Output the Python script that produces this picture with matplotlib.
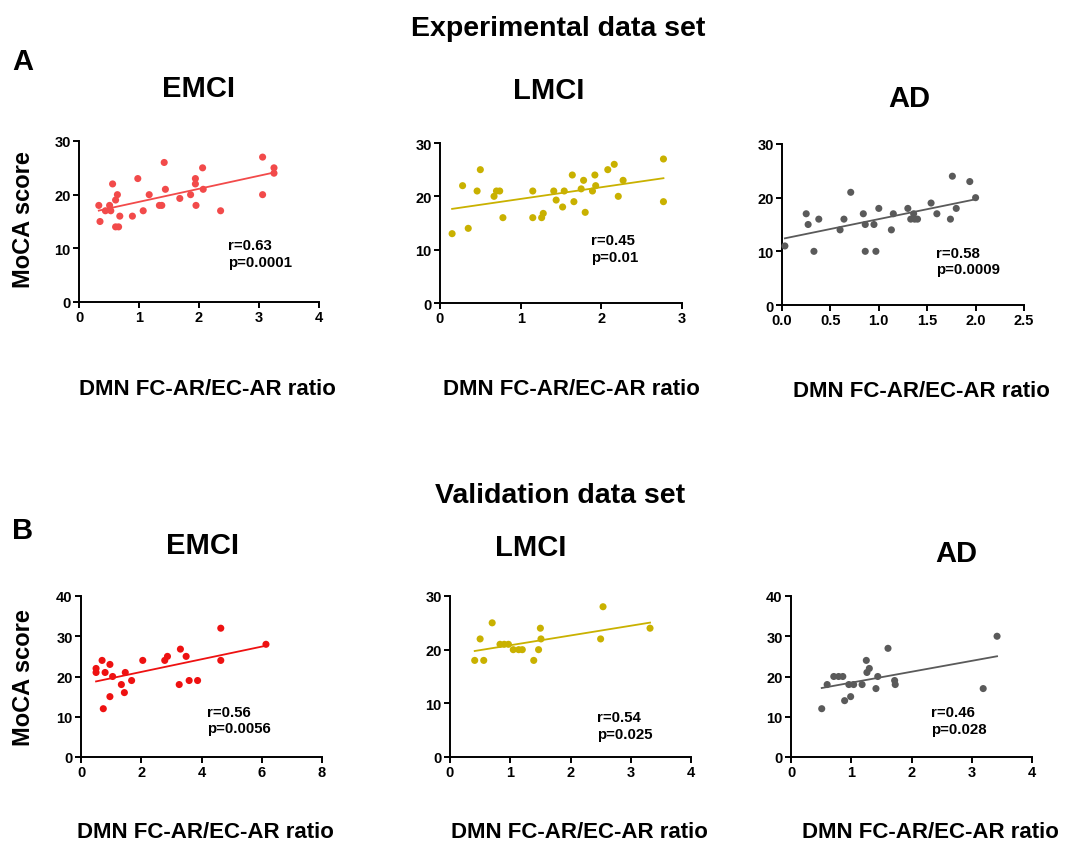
import numpy as np
import matplotlib
matplotlib.use("Agg")
import matplotlib.pyplot as plt

plt.rcParams['font.family'] = ['Liberation Sans', 'DejaVu Sans']
plt.rcParams['font.weight'] = 'bold'

# ---- data ----
# Experimental data set
a_emci_x = [0.33, 0.35, 0.44, 0.51, 0.53, 0.56, 0.61, 0.64, 0.61, 0.66, 0.68, 0.89, 0.98,
            1.07, 1.17, 1.34, 1.38, 1.42, 1.44, 1.68, 1.86, 1.94, 1.94, 1.95, 2.06, 2.07,
            2.36, 3.06, 3.06, 3.25, 3.25]
a_emci_y = [18, 15, 17, 18, 17, 22, 19, 20, 14, 14, 16, 16, 23,
            17, 20, 18, 18, 26, 21, 19.3, 20, 23, 22, 18, 25, 21,
            17, 27, 20, 25, 24]

a_lmci_x = [0.15, 0.28, 0.35, 0.46, 0.50, 0.67, 0.70, 0.74, 0.78, 1.15, 1.15, 1.26, 1.28,
            1.41, 1.44, 1.52, 1.54, 1.64, 1.66, 1.75, 1.78, 1.80, 1.89, 1.92, 1.93, 2.08,
            2.16, 2.21, 2.27, 2.77, 2.77]
a_lmci_y = [13, 22, 14, 21, 25, 20, 21, 21, 16, 16, 21, 16, 16.8,
            21, 19.3, 18, 21, 24, 19, 21.4, 23, 17, 21, 24, 22, 25,
            26, 20, 23, 27, 19]

a_ad_x = [0.03, 0.25, 0.27, 0.33, 0.38, 0.60, 0.64, 0.71, 0.84, 0.86, 0.86, 0.95, 0.97,
          1.00, 1.13, 1.15, 1.30, 1.33, 1.36, 1.37, 1.40, 1.54, 1.60, 1.74, 1.76, 1.80,
          1.94, 2.00]
a_ad_y = [11, 17, 15, 10, 16, 14, 16, 21, 17, 15, 10, 15, 10,
          18, 14, 17, 18, 16, 17, 16, 16, 19, 17, 16, 24, 18,
          23, 20]

# Validation data set
b_emci_x = [0.50, 0.50, 0.70, 0.80, 0.74, 0.96, 0.96, 1.05, 1.34, 1.44, 1.47, 1.68, 2.05,
            2.78, 2.87, 3.26, 3.30, 3.49, 3.59, 3.87, 4.64, 4.64, 6.14]
b_emci_y = [22, 21, 24, 21, 12, 23, 15, 20, 18, 16, 21, 19, 24,
            24, 25, 18, 26.8, 25, 19, 19, 32, 24, 28]

b_lmci_x = [0.41, 0.50, 0.56, 0.70, 0.83, 0.90, 0.97, 1.05, 1.14, 1.20, 1.39, 1.47, 1.50,
            1.51, 2.50, 2.54, 3.32]
b_lmci_y = [18, 22, 18, 25, 21, 21, 21, 20, 20, 20, 18, 20, 24,
            22, 22, 28, 24]

b_ad_x = [0.51, 0.60, 0.71, 0.79, 0.86, 0.89, 0.96, 0.99, 1.04, 1.18, 1.25, 1.26, 1.30,
          1.41, 1.44, 1.61, 1.72, 1.73, 3.19, 3.42]
b_ad_y = [12, 18, 20, 20, 20, 14, 18, 15, 18, 18, 24, 21, 22,
          17, 20, 27, 19, 18, 17, 30]

stats = ["r=0.63\np=0.0001", "r=0.45\np=0.01", "r=0.58\np=0.0009",
         "r=0.56\np=0.0056", "r=0.54\np=0.025", "r=0.46\np=0.028"]
titles = ["EMCI", "LMCI", "AD", "EMCI", "LMCI", "AD"]

W, H = 1071, 845
fig = plt.figure(figsize=(W / 100, H / 100), dpi=100)

def px(l, r, b, t):
    # pixel box -> figure fraction
    return [l / W, 1 - b / H, (r - l) / W, (b - t) / H]

def ftext(x, y, s, **kw):
    # text placed in pixel coords of the figure
    fig.text(x / W, 1 - y / H, s, fontweight='bold', **kw)

panels = [
    # data, colour, box, xmax, xticks, ymax, yticks, text pos, title pos (baseline), xlabel pos (baseline)
    (a_emci_x, a_emci_y, '#f24a4a', px(79, 319, 303, 142), 4, [0, 1, 2, 3, 4], 30, [0, 10, 20, 30], (2.49, 9.0), (199, 97), (207, 395)),
    (a_lmci_x, a_lmci_y, '#c9b100', px(440, 682, 304, 144), 3, [0, 1, 2, 3], 30, [0, 10, 20, 30], (1.87, 10.2), (549, 99), (571, 395)),
    (a_ad_x, a_ad_y, '#5a5a5a', px(782, 1024, 306, 145), 2.5, [0, 0.5, 1, 1.5, 2, 2.5], 30, [0, 10, 20, 30], (1.59, 8.2), (909, 107), (921, 397)),
    (b_emci_x, b_emci_y, '#ee1111', px(81, 322, 758, 597), 8, [0, 2, 4, 6, 8], 40, [0, 10, 20, 30, 40], (4.18, 9.2), (202, 554), (205, 838)),
    (b_lmci_x, b_lmci_y, '#c9b100', px(450, 691, 758, 597), 4, [0, 1, 2, 3, 4], 30, [0, 10, 20, 30], (2.44, 5.9), (531, 556), (579, 838)),
    (b_ad_x, b_ad_y, '#5a5a5a', px(791, 1032, 758, 597), 4, [0, 1, 2, 3, 4], 40, [0, 10, 20, 30, 40], (2.33, 9.0), (956, 562), (930, 838)),
]

for i, (xs, ys, col, box, xmax, xt, ymax, yt, tpos, tt, xl) in enumerate(panels):
    ax = fig.add_axes(box)
    xs = np.array(xs)
    ys = np.array(ys)
    ax.scatter(xs, ys, s=26, color=col, edgecolors='none', clip_on=False, zorder=3)
    k, b0 = np.polyfit(xs, ys, 1)
    lx = np.array([xs.min(), xs.max()])
    ax.plot(lx, k * lx + b0, color=col, lw=1.3, zorder=2)
    ax.set_xlim(0, xmax)
    ax.set_ylim(0, ymax)
    ax.set_xticks(xt)
    ax.set_yticks(yt)
    if xmax == 2.5:
        ax.set_xticklabels(['%.1f' % v for v in xt])
    else:
        ax.set_xticklabels([str(v) for v in xt])
    ax.spines['top'].set_visible(False)
    ax.spines['right'].set_visible(False)
    for s in ['left', 'bottom']:
        ax.spines[s].set_linewidth(1.4)
    ax.tick_params(direction='out', length=4, width=1.4, labelsize=10.5, pad=2)
    for lab in ax.get_xticklabels() + ax.get_yticklabels():
        lab.set_fontweight('bold')
    ax.text(tpos[0], tpos[1], stats[i], fontsize=10.8, fontweight='bold',
            linespacing=1.25, ha='left', va='center')
    ftext(tt[0], tt[1], titles[i], fontsize=21, ha='center', va='baseline')
    ftext(xl[0], xl[1], 'DMN FC-AR/EC-AR ratio', fontsize=16, ha='center', va='baseline')

ftext(24, 220, 'MoCA score', rotation=90, fontsize=17, ha='center', va='center')
ftext(24, 678, 'MoCA score', rotation=90, fontsize=17, ha='center', va='center')

ftext(558, 35.5, 'Experimental data set', fontsize=20.5, ha='center', va='baseline')
ftext(560, 503, 'Validation data set', fontsize=20.5, ha='center', va='baseline')
ftext(22.5, 70, 'A', fontsize=21, ha='center', va='baseline')
ftext(22.5, 539, 'B', fontsize=21, ha='center', va='baseline')

fig.savefig('out.png', dpi=100)
